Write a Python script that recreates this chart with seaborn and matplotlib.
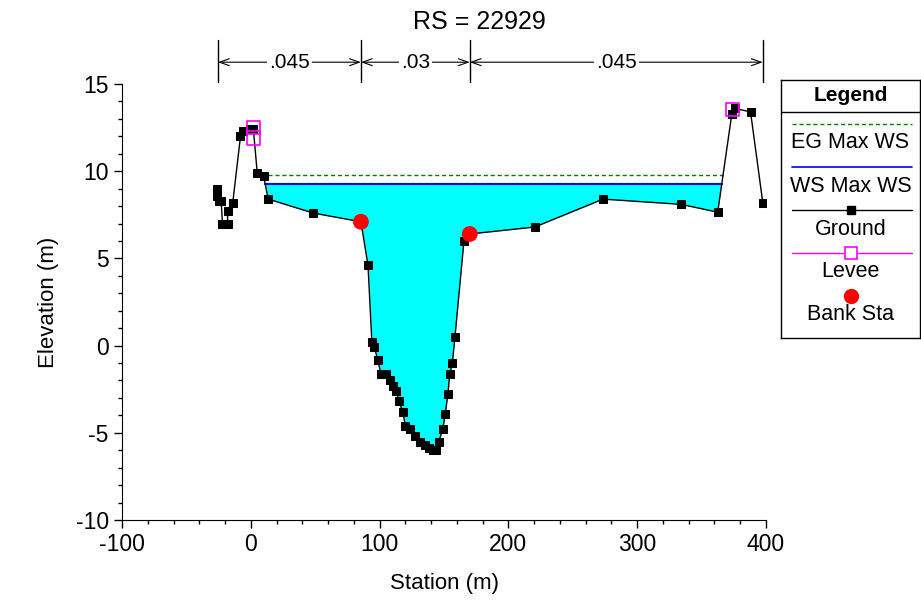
import numpy as np
import pandas as pd
import matplotlib
matplotlib.use("Agg")
import matplotlib.pyplot as plt
import seaborn as sns
from matplotlib.ticker import MultipleLocator

# ground survey points (station m, elevation m)
ground_sta = [-26, -26, -25, -23, -22, -18, -18, -14, -8, -6, -1, 2, 5, 10, 13.5,
              48.5, 85.5, 91, 94, 96, 98.5, 101, 105, 108, 110.5, 113, 115, 118,
              120, 123.5, 127.5, 131.5, 135, 138, 141.5, 144, 146, 149, 151, 153,
              154.5, 156.5, 158.5, 165.5, 170, 220.5, 273.5, 334, 362.5, 373.5,
              376, 388, 397.5]
ground_elev = [9.0, 8.6, 8.3, 8.3, 7.0, 7.0, 7.7, 8.2, 12.0, 12.3, 12.4, 12.4, 9.9,
               9.7, 8.4, 7.6, 7.1, 4.6, 0.2, -0.1, -0.8, -1.6, -1.6, -2.0, -2.3,
               -2.6, -3.2, -3.8, -4.6, -4.8, -5.2, -5.5, -5.7, -5.9, -6.0, -6.0,
               -5.5, -4.8, -3.9, -2.8, -1.6, -1.0, 0.5, 6.0, 6.4, 6.8, 8.4, 8.1,
               7.65, 13.3, 13.6, 13.4, 8.2]
levee_sta = [2, 2, 374]
levee_elev = [12.5, 11.9, 13.55]
bank_sta = [85.5, 170]
bank_elev = [7.1, 6.4]
ws_max = 9.27
eg_max = 9.78
n_breaks = [-25.5, 85.5, 170, 397.5]
n_values = [".045", ".03", ".045"]

sns.set_style("ticks")
plt.rcParams["font.family"] = ["Liberation Sans", "DejaVu Sans"]
plt.rcParams["axes.unicode_minus"] = False
for k in ["text.color", "axes.labelcolor", "xtick.color", "ytick.color"]:
    plt.rcParams[k] = "black"

st = np.array(ground_sta, dtype=float)
el = np.array(ground_elev, dtype=float)
ground = pd.DataFrame({"Station": st, "Elevation": el})


def edge(level, i, step):
    # walk from a levee toward the channel until the ground drops under level
    while el[i + step] >= level:
        i += step
    j = i + step
    return st[i] + (level - el[i]) * (st[j] - st[i]) / (el[j] - el[i])


i_l = int(np.argmin(np.abs(st - levee_sta[0])))
i_r = int(np.argmin(np.abs(st - levee_sta[-1])))

fig = plt.figure(figsize=(9.21, 6.03), dpi=100)
ax = fig.add_axes([122 / 921, 83 / 603, 644 / 921, 436 / 603])

# water fill
xl, xr = edge(ws_max, i_l, 1), edge(ws_max, i_r, -1)
inside = (st > xl) & (st < xr)
fx = np.concatenate([[xl], st[inside], [xr]])
fy = np.concatenate([[ws_max], el[inside], [ws_max]])
ax.fill_between(fx, fy, ws_max, color="#00FFFF", lw=0, zorder=1)

ax.plot([xl, xr], [ws_max, ws_max], color="#0000FF", lw=1.5, zorder=2)
el_l, el_r = edge(eg_max, i_l, 1), edge(eg_max, i_r, -1)
ax.plot([el_l, el_r], [eg_max, eg_max], color="#007F00", lw=1, ls=(0, (3, 2)), zorder=2)

sns.lineplot(data=ground, x="Station", y="Elevation", sort=False, estimator=None,
             color="black", lw=1, marker="s", markersize=6, markeredgecolor="black",
             ax=ax, zorder=3)
sns.scatterplot(x=levee_sta, y=levee_elev, marker="s", s=90, facecolor="none",
                edgecolor="#FF00FF", linewidth=1.2, ax=ax, zorder=4)
sns.scatterplot(x=bank_sta, y=bank_elev, marker="o", s=130, color="#FF0000",
                edgecolor="none", ax=ax, zorder=5)

ax.set_xlim(-100, 400)
ax.set_ylim(-10, 15)
ax.xaxis.set_major_locator(MultipleLocator(100))
ax.xaxis.set_minor_locator(MultipleLocator(20))
ax.yaxis.set_major_locator(MultipleLocator(5))
ax.yaxis.set_minor_locator(MultipleLocator(1))
ax.tick_params(which="major", length=6, width=1, labelsize=16.5, color="black")
ax.tick_params(which="minor", length=3, width=1, color="black")
for s in ["top", "right"]:
    ax.spines[s].set_visible(False)
for s in ["left", "bottom"]:
    ax.spines[s].set_color("black")
ax.set_xlabel("Station (m)", fontsize=16, labelpad=12)
ax.set_ylabel("Elevation (m)", fontsize=16, labelpad=12)
fig.text(479 / 921, 1 - 22 / 603, "RS = 22929", ha="center", va="center", fontsize=18)

# manning's n bar above the plot
tr = ax.get_xaxis_transform()
for b in n_breaks:
    ax.plot([b, b], [1.005, 1.10], transform=tr, color="black", lw=1, clip_on=False)
for a, b, lab in zip(n_breaks[:-1], n_breaks[1:], n_values):
    ax.annotate("", xy=(b, 1.05), xytext=(a, 1.05), xycoords=tr, textcoords=tr,
                arrowprops=dict(arrowstyle="<->,head_length=0.7,head_width=0.25",
                                color="black", lw=0.8, shrinkA=0, shrinkB=0))
    ax.text((a + b) / 2, 1.05, lab, transform=tr, ha="center", va="center",
            fontsize=15, bbox=dict(facecolor="white", edgecolor="none", pad=1.5))

# legend panel
lg = fig.add_axes([781 / 921, (603 - 338) / 603, 139 / 921, 258 / 603])
lg.set_xlim(0, 1)
lg.set_ylim(0, 1)
lg.set_xticks([])
lg.set_yticks([])
for s in lg.spines.values():
    s.set_color("black")
    s.set_linewidth(1)
lg.text(0.5, 0.938, "Legend", ha="center", va="center", fontsize=15, fontweight="bold")
lg.axhline(0.876, color="black", lw=1)
x0, x1 = 0.08, 0.94
lg.plot([x0, x1], [0.829, 0.829], color="#007F00", lw=1, ls=(0, (3, 2)))
lg.text(0.5, 0.756, "EG Max WS", ha="center", va="center", fontsize=15.5)
lg.plot([x0, x1], [0.663, 0.663], color="#0000FF", lw=1.2)
lg.text(0.5, 0.589, "WS Max WS", ha="center", va="center", fontsize=15.5)
lg.plot([x0, x1], [0.496, 0.496], color="black", lw=1)
lg.plot([0.5], [0.496], marker="s", color="black", markersize=6)
lg.text(0.5, 0.422, "Ground", ha="center", va="center", fontsize=15.5)
lg.plot([x0, x1], [0.329, 0.329], color="#FF00FF", lw=1)
lg.plot([0.5], [0.329], marker="s", markersize=9, markerfacecolor="white",
        markeredgecolor="#FF00FF", markeredgewidth=1.2)
lg.text(0.5, 0.256, "Levee", ha="center", va="center", fontsize=15.5)
lg.plot([0.5], [0.163], marker="o", color="#FF0000", markersize=10)
lg.text(0.5, 0.093, "Bank Sta", ha="center", va="center", fontsize=15.5)

fig.savefig("out.png", dpi=100)
